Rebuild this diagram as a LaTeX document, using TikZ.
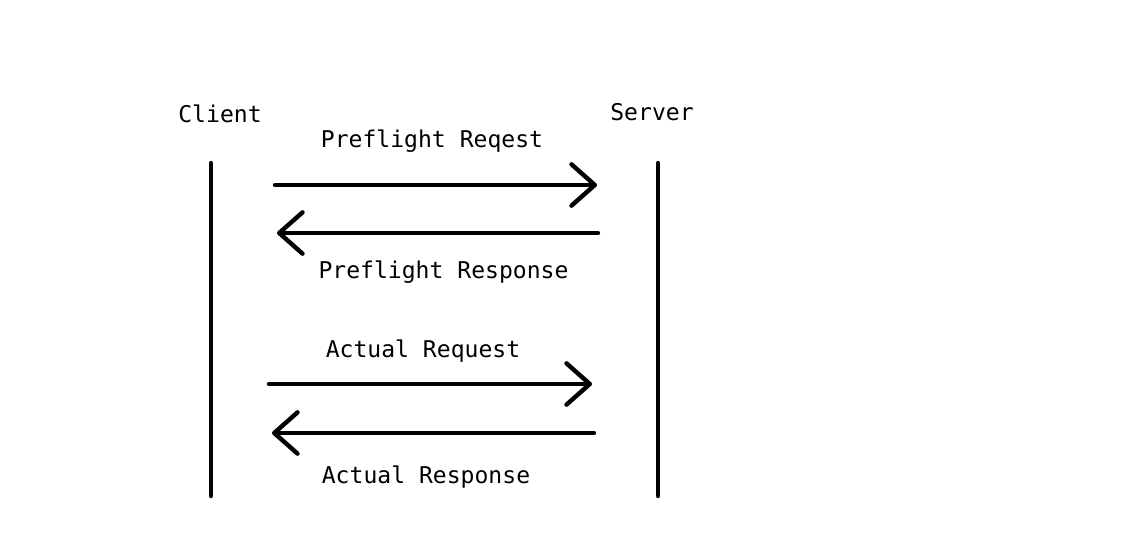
\documentclass[tikz,border=0pt]{standalone}
\usepackage{fontspec}
\setmonofont{DejaVu Sans Mono}
\usetikzlibrary{arrows.meta}
\begin{document}
\begin{tikzpicture}[x=0.75pt,y=-0.75pt,
  lbl/.style={font=\ttfamily\fontsize{17.3pt}{20pt}\selectfont, anchor=base, inner sep=0pt},
  life/.style={line width=3.3pt, line cap=round},
  msg/.style={line width=3.3pt, line cap=round, -{Straight Barb[length=17.5pt,width=31pt,round]}}]
\useasboundingbox (0,0) rectangle (1148,534);
\node[lbl] (client) at (220,123) {Client};
\node[lbl] (server) at (652,121) {Server};
\coordinate (c1) at (211,163); \coordinate (c2) at (211,496);
\coordinate (s1) at (658,163); \coordinate (s2) at (658,496);
\draw[life] (c1) -- (c2);
\draw[life] (s1) -- (s2);
\coordinate (a1s) at (275,185); \coordinate (a1e) at (597,185);
\coordinate (a2s) at (598,233); \coordinate (a2e) at (277,233);
\coordinate (a3s) at (269,384); \coordinate (a3e) at (592,384);
\coordinate (a4s) at (594,433); \coordinate (a4e) at (272,433);
\draw[msg] (a1s) -- (a1e);
\draw[msg] (a2s) -- (a2e);
\draw[msg] (a3s) -- (a3e);
\draw[msg] (a4s) -- (a4e);
\node[lbl] (l1) at (432,148) {Preflight Reqest};
\node[lbl] (l2) at (443.5,279) {Preflight Response};
\node[lbl] (l3) at (423,357) {Actual Request};
\node[lbl] (l4) at (426,483) {Actual Response};
\end{tikzpicture}
\end{document}
